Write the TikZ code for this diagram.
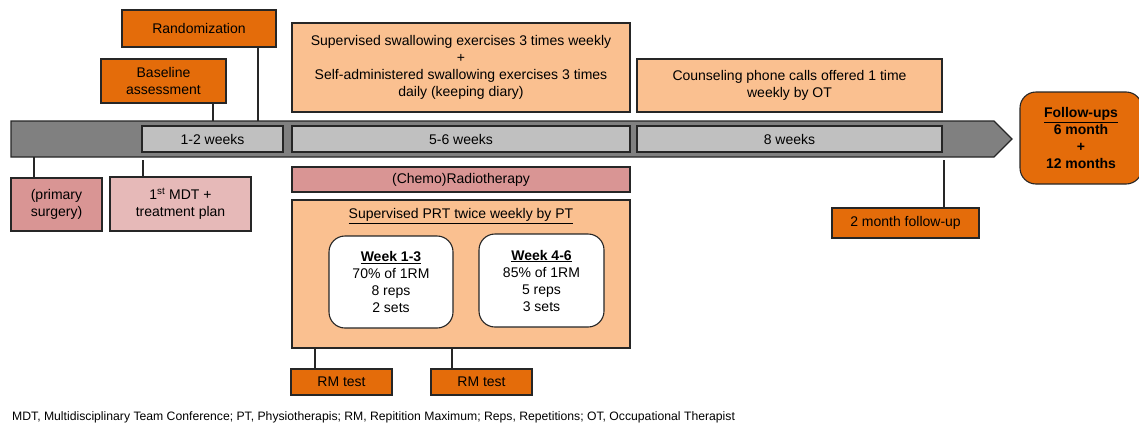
\documentclass[tikz,border=0pt]{standalone}
\usepackage{fontspec}
\setmainfont{Liberation Sans}
\definecolor{dorange}{HTML}{E46C0A}
\definecolor{lorange}{HTML}{FAC090}
\definecolor{pinkA}{HTML}{D99594}
\definecolor{pinkB}{HTML}{E6B9B8}
\definecolor{bargray}{HTML}{808080}
\definecolor{lgray}{HTML}{C0C0C0}
\definecolor{edge}{HTML}{262626}
\begin{document}
\begin{tikzpicture}[x=1pt,y=-1pt,
  every node/.style={font=\fontsize{14}{17}\selectfont, text=black},
  box/.style={draw=edge, line width=1.1pt, rectangle, align=center, inner sep=1pt},
  dbox/.style={box, fill=dorange},
  lbox/.style={box, fill=lorange},
  gbox/.style={box, fill=lgray},
  rbox/.style={box, fill=white, rounded corners=16pt},
  conn/.style={draw=edge, line width=1.1pt}]
\useasboundingbox (0,0) rectangle (1139,426);
% timeline bar
\draw[fill=bargray, draw=edge, line width=1.1pt] (11,121) -- (994,121) -- (1012,139) -- (994,157) -- (11,157) -- cycle;
% top boxes
\node[dbox, minimum width=154, minimum height=37] (rand) at (199,28.5) {Randomization};
\node[dbox, minimum width=125, minimum height=44] (base) at (163.5,81) {Baseline\\assessment};
\node[lbox, minimum width=338, minimum height=89] (swal) at (461,67.5) {Supervised swallowing exercises 3 times weekly\\+\\Self-administered swallowing exercises 3 times\\daily (keeping diary)};
\node[lbox, minimum width=305, minimum height=53] (couns) at (789.5,85.5) {Counseling phone calls offered 1 time\\weekly by OT};
% bar segments
\node[gbox, minimum width=141, minimum height=26] (w12) at (212.5,139) {1-2 weeks};
\node[gbox, minimum width=338, minimum height=26] (w56) at (461,139) {5-6 weeks};
\node[gbox, minimum width=305, minimum height=26] (w8) at (789.5,139) {8 weeks};
% bottom
\node[box, fill=pinkA, minimum width=91, minimum height=53] (surg) at (56.5,204.5) {(primary\\surgery)};
\node[box, fill=pinkB, minimum width=141, minimum height=54] (mdt) at (180.5,204) {1\textsuperscript{st} MDT +\\treatment plan};
\node[box, fill=pinkA, minimum width=338, minimum height=25] (chemo) at (461,179.5) {(Chemo)Radiotherapy};
\node[lbox, minimum width=338, minimum height=148] (prt) at (461,274) {};
\node (prtt) at (461,216) {\underline{Supervised PRT twice weekly by PT}};
\node[rbox, minimum width=124, minimum height=92] (wk13) at (391,282) {\textbf{\underline{Week 1-3}}\\70\% of 1RM\\8 reps\\2 sets};
\node[rbox, minimum width=125, minimum height=93] (wk46) at (541.5,280.5) {\textbf{\underline{Week 4-6}}\\85\% of 1RM\\5 reps\\3 sets};
\node[dbox, minimum width=101, minimum height=26] (rm1) at (341.5,382) {RM test};
\node[dbox, minimum width=101, minimum height=26] (rm2) at (481.5,382) {RM test};
\node[dbox, minimum width=147, minimum height=30] (fu2) at (905.5,223) {2 month follow-up};
\node[dbox, rounded corners=16pt, minimum width=122, minimum height=92, font=\fontsize{14}{17}\selectfont\bfseries] (fup) at (1081,138) {\underline{Follow-ups}\\6 month\\+\\12 months};
% connector anchors on the bar
\coordinate (bt1) at (258,121);
\coordinate (bt2) at (213,121);
\coordinate (bb1) at (34,157);
\coordinate (bb2) at (143,160);
\coordinate (bb3) at (944,160);
% connectors
\draw[conn] (rand.south -| bt1) -- (bt1);
\draw[conn] (base.south -| bt2) -- (bt2);
\draw[conn] (bb1) -- (surg.north -| bb1);
\draw[conn] (bb2) -- (mdt.north -| bb2);
\draw[conn] (bb3) -- (fu2.north -| bb3);
\draw[conn] (prt.south -| 315,0) -- (rm1.north -| 315,0);
\draw[conn] (prt.south -| 452,0) -- (rm2.north -| 452,0);
% footnote
\node[anchor=west, inner sep=0, font=\fontsize{12.2}{14}\selectfont] (foot) at (12,417) {MDT, Multidisciplinary Team Conference; PT, Physiotherapis; RM, Repitition Maximum; Reps, Repetitions; OT, Occupational Therapist};
\end{tikzpicture}
\end{document}
